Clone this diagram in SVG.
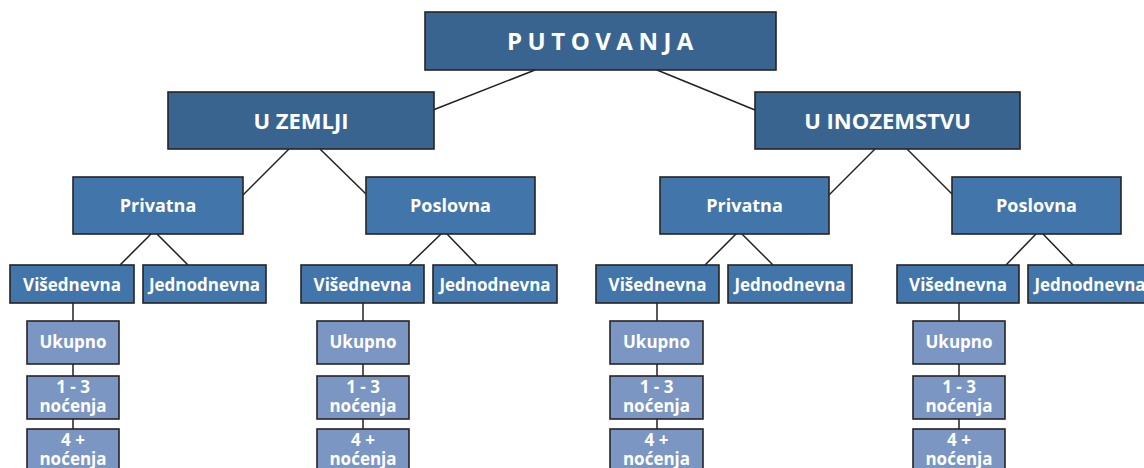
<svg xmlns="http://www.w3.org/2000/svg" width="1144" height="468" viewBox="0 0 1144 468">
<style>
.n{stroke:#262324;stroke-width:1.6}
.l0{fill:#3a6490}
.l1{fill:#3a6490}
.l2{fill:#4275a9}
.l3{fill:#4275a9}
.l4{fill:#7b96c3}
text{font-family:"Open Sans","Liberation Sans",sans-serif;font-weight:bold;fill:#ffffff;text-anchor:middle}
.t0{font-size:24px;letter-spacing:5.5px}
.t1{font-size:22px}
.t2{font-size:18px}
.t3{font-size:17px}
.t4{font-size:17px}
#connectors line{stroke:#231f20;stroke-width:1.5}
</style>
<rect x="0" y="0" width="1144" height="468" style="fill:#ffffff;stroke:none"/>
<g id="connectors">
<line x1="535" y1="70" x2="433" y2="110"/>
<line x1="657" y1="70" x2="755" y2="110"/>
<line x1="289" y1="149" x2="243" y2="195"/>
<line x1="320" y1="149" x2="366" y2="194"/>
<line x1="875" y1="149" x2="829" y2="195"/>
<line x1="907" y1="149" x2="952" y2="194"/>
<line x1="151" y1="234" x2="120" y2="265"/>
<line x1="157" y1="234" x2="188" y2="265"/>
<line x1="441" y1="234" x2="409" y2="265"/>
<line x1="447" y1="234" x2="477" y2="265"/>
<line x1="736" y1="234" x2="705" y2="265"/>
<line x1="742" y1="234" x2="773" y2="265"/>
<line x1="1036" y1="234" x2="1006" y2="265"/>
<line x1="1043" y1="234" x2="1073" y2="265"/>
<line x1="73" y1="303" x2="73" y2="321"/>
<line x1="73" y1="364" x2="73" y2="376"/>
<line x1="73" y1="419" x2="73" y2="429"/>
<line x1="363" y1="303" x2="363" y2="321"/>
<line x1="363" y1="364" x2="363" y2="376"/>
<line x1="363" y1="419" x2="363" y2="429"/>
<line x1="657" y1="303" x2="657" y2="321"/>
<line x1="657" y1="364" x2="657" y2="376"/>
<line x1="657" y1="419" x2="657" y2="429"/>
<line x1="959" y1="303" x2="959" y2="321"/>
<line x1="959" y1="364" x2="959" y2="376"/>
<line x1="959" y1="419" x2="959" y2="429"/>
</g>
<g id="putovanja"><rect class="n l0" x="425" y="12" width="351" height="58"/><text class="t0" x="603" y="50">PUTOVANJA</text></g>
<g id="u-zemlji"><rect class="n l1" x="168" y="92" width="266" height="57"/><text class="t1" x="301" y="128.5">U ZEMLJI</text></g>
<g id="u-inozemstvu"><rect class="n l1" x="755" y="92" width="265" height="57"/><text class="t1" x="887.5" y="128.5">U INOZEMSTVU</text></g>

<g id="privatna-z"><rect class="n l2" x="73" y="177" width="170" height="57"/><text class="t2" x="158" y="212">Privatna</text></g>
<g id="poslovna-z"><rect class="n l2" x="366" y="177" width="169" height="57"/><text class="t2" x="450.5" y="212">Poslovna</text></g>
<g id="privatna-i"><rect class="n l2" x="660" y="177" width="169" height="57"/><text class="t2" x="744.5" y="212">Privatna</text></g>
<g id="poslovna-i"><rect class="n l2" x="952" y="177" width="169" height="57"/><text class="t2" x="1036.5" y="212">Poslovna</text></g>

<g id="visednevna-zp"><rect class="n l3" x="10" y="265" width="124" height="38"/><text class="t3" x="72" y="291">Višednevna</text></g>
<g id="jednodnevna-zp"><rect class="n l3" x="143" y="265" width="123" height="38"/><text class="t3" x="204.5" y="291">Jednodnevna</text></g>
<g id="visednevna-zs"><rect class="n l3" x="301" y="265" width="123" height="38"/><text class="t3" x="362.5" y="291">Višednevna</text></g>
<g id="jednodnevna-zs"><rect class="n l3" x="433" y="265" width="124" height="38"/><text class="t3" x="495" y="291">Jednodnevna</text></g>
<g id="visednevna-ip"><rect class="n l3" x="596" y="265" width="123" height="38"/><text class="t3" x="657.5" y="291">Višednevna</text></g>
<g id="jednodnevna-ip"><rect class="n l3" x="728" y="265" width="124" height="38"/><text class="t3" x="790" y="291">Jednodnevna</text></g>
<g id="visednevna-is"><rect class="n l3" x="897" y="265" width="122" height="38"/><text class="t3" x="958" y="291">Višednevna</text></g>
<g id="jednodnevna-is"><rect class="n l3" x="1028" y="265" width="124" height="38"/><text class="t3" x="1090" y="291">Jednodnevna</text></g>

<g id="ukupno-zp"><rect class="n l4" x="27" y="321" width="92" height="43"/><text class="t4" x="73" y="348">Ukupno</text></g>
<g id="n13-zp"><rect class="n l4" x="27" y="376" width="92" height="43"/><text class="t4" x="73" y="393">1 - 3<tspan x="73" dy="19">noćenja</tspan></text></g>
<g id="n4-zp"><rect class="n l4" x="27" y="429" width="92" height="43"/><text class="t4" x="73" y="446">4 +<tspan x="73" dy="19">noćenja</tspan></text></g>

<g id="ukupno-zs"><rect class="n l4" x="317" y="321" width="92" height="43"/><text class="t4" x="363" y="348">Ukupno</text></g>
<g id="n13-zs"><rect class="n l4" x="317" y="376" width="92" height="43"/><text class="t4" x="363" y="393">1 - 3<tspan x="363" dy="19">noćenja</tspan></text></g>
<g id="n4-zs"><rect class="n l4" x="317" y="429" width="92" height="43"/><text class="t4" x="363" y="446">4 +<tspan x="363" dy="19">noćenja</tspan></text></g>

<g id="ukupno-ip"><rect class="n l4" x="610" y="321" width="93" height="43"/><text class="t4" x="656.5" y="348">Ukupno</text></g>
<g id="n13-ip"><rect class="n l4" x="610" y="376" width="93" height="43"/><text class="t4" x="656.5" y="393">1 - 3<tspan x="656.5" dy="19">noćenja</tspan></text></g>
<g id="n4-ip"><rect class="n l4" x="610" y="429" width="93" height="43"/><text class="t4" x="656.5" y="446">4 +<tspan x="656.5" dy="19">noćenja</tspan></text></g>

<g id="ukupno-is"><rect class="n l4" x="913" y="321" width="92" height="43"/><text class="t4" x="959" y="348">Ukupno</text></g>
<g id="n13-is"><rect class="n l4" x="913" y="376" width="92" height="43"/><text class="t4" x="959" y="393">1 - 3<tspan x="959" dy="19">noćenja</tspan></text></g>
<g id="n4-is"><rect class="n l4" x="913" y="429" width="92" height="43"/><text class="t4" x="959" y="446">4 +<tspan x="959" dy="19">noćenja</tspan></text></g>
</svg>
